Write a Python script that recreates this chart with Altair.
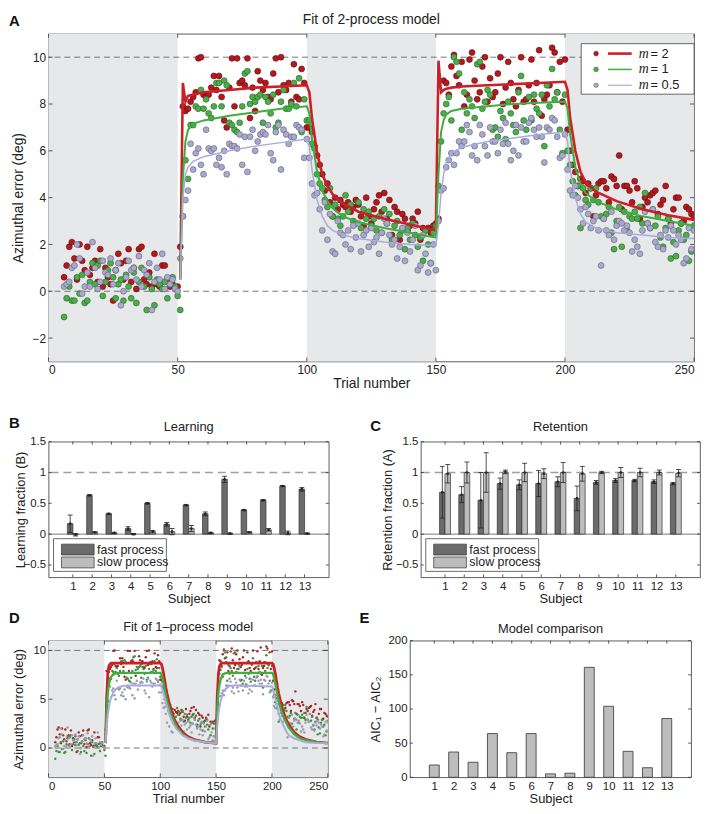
import altair as alt
import pandas as pd

FONT = "Liberation Sans"
TXT = "#222222"
BG = "#e7e8e9"

SERIES = ["m = 2", "m = 1", "m = 0.5"]
SERIES_NUM = ["= 2", "= 1", "= 0.5"]
PT_FILL = ["#b3191f", "#4dad4a", "#a9a9c9"]
PT_STROKE = ["#5e0c0e", "#24652a", "#5f5f7f"]
PT_FILL_D = ["#a3272a", "#3f8f3f", "#9a9ab2"]
LINE_COL = ["#cc1f26", "#3fae3f", "#aaaadc"]

# ---------------- trial-by-trial data (panels A and D) ----------------
BLOCK_START = [6, 51, 101, 151, 201]
red_pts = [
    [0.6, 1.1, 1.9, 2.1, 1.4, 0.5, 2.0, 1.3, 0.9, 1.9, 0.7, 1.0, 1.3, 0.4, 1.8, 0.2, 1.0, 0.6, 0.3, -0.4,
     0.9, 1.6, 1.2, 0.5, 1.3, 1.8, 0.4, 1.0, 0.1, 1.8, 1.9, 0.5, 0.3, 0.8, 0.2, 1.6, 0.3, 0.2, 1.1, 1.1,
     0.5, 0.2, 0.3, 0.1, 0.2],
    [1.9, 7.9, 7.7, 7.8, 8.1, 8.3, 8.5, 9.95, 10.0, 8.4, 8.3, 8.4, 8.7, 9.2, 8.6, 9.2, 8.3, 7.3, 7.0, 8.7,
     9.95, 7.9, 9.95, 8.9, 9.0, 8.8, 9.95, 7.4, 8.7, 7.7, 9.4, 9.0, 8.6, 8.9, 8.3, 8.2, 9.3, 9.95, 8.5, 10.0,
     8.8, 8.6, 8.9, 8.1, 9.7, 8.3, 8.2, 9.5, 8.9, 7.0],
    [7.0, 6.8, 6.2, 5.8, 5.4, 5.0, 4.3, 4.6, 3.8, 3.2, 4.0, 3.5, 3.9, 3.7, 3.6, 3.8, 3.4, 3.6, 3.9, 3.7,
     3.2, 2.8, 4.0, 3.2, 2.9, 3.5, 3.8, 4.1, 3.4, 4.2, 3.1, 3.9, 2.4, 3.6, 3.4, 2.2, 3.3, 3.1, 2.6, 2.8,
     3.1, 2.9, 3.4, 2.2, 2.7, 2.6, 2.7, 2.5, 2.8, 2.9],
    [3.1, 4.4, 9.0, 8.9, 8.4, 9.6, 10.1, 9.2, 8.8, 9.8, 7.9, 8.4, 9.9, 10.2, 9.0, 8.2, 8.5, 9.6, 10.0, 8.1,
     9.1, 8.3, 8.5, 9.3, 10.0, 8.0, 8.7, 9.8, 8.9, 8.2, 7.9, 8.6, 10.0, 8.1, 8.2, 8.8, 9.9, 8.1, 8.9, 10.3,
     7.5, 8.2, 8.4, 8.8, 10.4, 10.2, 8.5, 9.8, 8.1, 9.9],
    [6.9, 6.0, 5.4, 5.1, 4.5, 4.8, 4.7, 4.2, 4.6, 4.4, 3.2, 4.1, 4.6, 4.7, 4.7, 4.4, 3.8, 4.9, 4.8, 4.5,
     5.8, 3.5, 4.5, 4.5, 4.3, 3.8, 4.7, 4.4, 3.1, 3.6, 4.0, 3.8, 4.1, 4.2, 4.3, 3.3, 3.7, 3.9, 4.5, 3.1,
     2.9, 3.5, 4.0, 4.0, 2.9, 3.0, 3.6, 3.5, 3.3, 3.2],
]
green_pts = [
    [-1.1, -0.3, 0.2, -0.4, -0.4, 0.6, -0.1, 0.7, -0.5, -0.4, 0.4, 1.2, 0.3, 1.1, 1.3, -0.2, 0.4, 0.9, 1.2, 0.6,
     -0.3, 0.3, 0.5, -0.4, 0.7, 0.2, -0.3, 0.8, -0.5, 0.4, 1.0, 0.2, -0.8, 0.6, 0.1, -0.6, 0.5, 0.3, 0.1, 0.4,
     -0.3, 0.3, 0.6, 0.2, -0.2],
    [-0.8, 3.2, 5.6, 4.8, 7.1, 7.1, 7.9, 7.8, 8.6, 7.8, 8.2, 7.6, 7.4, 7.9, 8.9, 8.9, 7.9, 9.0, 8.8, 7.2,
     7.1, 6.9, 6.8, 7.2, 7.9, 9.3, 9.4, 8.0, 8.3, 8.1, 8.3, 8.4, 7.2, 8.3, 8.1, 7.6, 8.4, 7.0, 7.2, 8.1,
     8.6, 7.8, 7.8, 8.0, 8.9, 7.9, 9.1, 6.8, 8.2, 7.3],
    [7.3, 6.3, 6.1, 5.0, 4.6, 4.4, 3.9, 3.6, 4.4, 3.2, 3.7, 3.1, 2.8, 3.2, 4.1, 3.4, 3.7, 3.0, 2.9, 3.8,
     2.7, 3.5, 3.1, 3.4, 2.8, 3.1, 2.6, 3.2, 2.5, 3.5, 2.9, 3.3, 2.2, 2.8, 3.0, 2.4, 2.6, 1.8, 2.7, 2.2,
     2.9, 2.4, 1.9, 2.3, 1.3, 2.6, 2.0, 1.2, 2.5, 2.8],
    [4.5, 6.4, 7.6, 8.0, 8.3, 7.3, 10.0, 9.8, 9.3, 6.9, 8.5, 7.6, 8.2, 7.9, 7.4, 9.7, 9.8, 7.8, 8.1, 8.6,
     8.4, 6.9, 7.0, 6.6, 7.7, 7.4, 6.5, 8.1, 7.6, 7.1, 6.8, 8.5, 9.2, 7.3, 6.9, 8.3, 7.3, 8.4, 7.8, 7.6,
     8.4, 6.2, 8.8, 7.9, 9.5, 8.2, 8.5, 6.9, 5.9, 8.4],
    [6.0, 5.4, 4.7, 4.1, 4.5, 2.7, 4.4, 3.9, 3.7, 4.4, 3.9, 4.4, 3.8, 3.2, 3.1, 3.3, 3.6, 2.5, 1.8, 3.0,
     3.6, 1.9, 3.4, 2.6, 3.2, 3.1, 3.4, 3.1, 3.6, 2.9, 4.2, 2.9, 2.7, 3.5, 2.8, 3.2, 2.3, 1.9, 2.7, 3.1,
     1.4, 2.1, 1.5, 2.6, 2.9, 2.2, 2.4, 1.3, 1.7, 2.8],
]
gray_pts = [
    [0.2, 0.3, 0.4, 1.0, 1.1, 2.0, 1.4, -0.1, 0.2, 0.8, 0.2, 2.1, 1.0, 0.1, 0.4, 1.3, 0.8, 0.7, 1.4, 0.3,
     0.9, 1.2, -0.6, 0.0, 0.6, 1.3, 0.9, 1.0, 0.5, 1.5, 0.2, 0.9, 0.7, 1.2, -0.8, 0.4, 1.0, 0.5, 1.6, 0.1,
     0.6, 0.3, 0.5, 0.1, 0.0],
    [1.4, 3.2, 3.9, 4.3, 6.3, 5.2, 5.9, 6.1, 5.4, 5.0, 6.9, 6.1, 6.0, 6.1, 5.4, 5.7, 5.3, 6.0, 5.0, 6.3,
     6.2, 6.2, 6.1, 6.7, 5.4, 6.6, 5.1, 6.6, 6.9, 6.0, 6.4, 6.7, 6.8, 6.7, 7.1, 5.9, 5.6, 6.8, 7.1, 5.2,
     6.9, 6.7, 6.3, 6.6, 6.6, 7.1, 7.0, 6.9, 5.7, 6.5],
    [5.7, 4.6, 4.1, 4.2, 3.5, 2.6, 3.8, 2.2, 3.3, 1.7, 1.6, 3.0, 2.5, 2.4, 2.0, 2.6, 1.8, 2.8, 2.3, 2.9,
     1.7, 2.4, 2.6, 1.9, 2.7, 2.1, 2.3, 1.6, 2.5, 3.1, 2.9, 2.4, 2.0, 2.2, 1.4, 1.9, 2.7, 1.3, 2.5, 1.7,
     2.2, 2.8, 0.9, 1.1, 2.4, 1.6, 0.8, 1.2, 2.0, 0.9],
    [3.0, 4.3, 4.4, 5.3, 5.6, 5.9, 5.4, 5.9, 6.4, 6.2, 6.4, 7.1, 6.8, 5.8, 6.2, 5.6, 7.1, 6.7, 6.2, 5.8,
     7.0, 6.4, 6.4, 5.9, 6.9, 6.3, 7.2, 6.3, 5.6, 6.0, 7.1, 5.8, 7.0, 6.4, 6.4, 7.2, 7.4, 6.9, 6.6, 7.0,
     6.6, 5.5, 7.0, 6.9, 7.4, 7.3, 6.6, 5.7, 5.8, 6.7],
    [5.2, 4.3, 4.1, 4.5, 4.0, 3.5, 2.9, 3.6, 3.3, 2.7, 3.0, 3.2, 2.6, 1.1, 3.1, 2.6, 2.4, 3.4, 2.2, 2.8,
     3.0, 2.9, 2.6, 2.8, 2.5, 1.7, 2.2, 1.9, 1.6, 2.6, 3.4, 2.9, 2.7, 3.5, 2.1, 1.9, 2.4, 1.8, 2.6, 2.3,
     2.8, 2.6, 2.0, 2.4, 2.2, 1.2, 1.4, 2.7, 1.8, 2.6],
]

# 2-process model fits (panel A)
FIT2_T = [51, 52, 53, 54, 56, 60, 70, 80, 90, 100,
          101, 102, 104, 106, 108, 110, 114, 120, 130, 140, 150,
          151, 152, 153, 154, 156, 160, 170, 180, 190, 200,
          201, 202, 204, 206, 208, 212, 220, 230, 240, 250]
fit2_red = [0.5, 8.9, 8.1, 8.35, 8.4, 8.5, 8.6, 8.7, 8.75, 8.8,
            8.5, 7.4, 5.9, 5.0, 4.5, 4.15, 3.75, 3.4, 3.1, 2.85, 2.6,
            9.85, 8.5, 8.6, 8.65, 8.7, 8.75, 8.8, 8.85, 8.9, 8.95,
            8.6, 7.4, 6.0, 5.1, 4.65, 4.25, 3.85, 3.5, 3.25, 3.05]
fit2_green = [0.5, 4.8, 6.4, 6.9, 7.15, 7.3, 7.5, 7.65, 7.8, 7.9,
              7.6, 6.5, 5.1, 4.3, 3.85, 3.55, 3.2, 2.95, 2.7, 2.5, 2.3,
              5.0, 6.8, 7.3, 7.55, 7.7, 7.8, 7.9, 8.0, 8.05, 8.1,
              7.8, 6.7, 5.3, 4.6, 4.2, 3.85, 3.5, 3.2, 3.0, 2.8]
fit2_gray = [0.5, 4.0, 5.0, 5.3, 5.55, 5.75, 6.0, 6.2, 6.35, 6.5,
             6.2, 5.2, 3.9, 3.2, 2.8, 2.6, 2.4, 2.25, 2.1, 2.0, 1.95,
             2.8, 4.2, 5.0, 5.5, 5.9, 6.15, 6.4, 6.55, 6.7, 6.8,
             6.4, 5.2, 4.0, 3.3, 2.95, 2.7, 2.5, 2.4, 2.3, 2.25]

# 1-process model fits (panel D)
FIT1_T = [51, 52, 53, 54, 55, 56, 58, 60, 62, 66, 70, 100,
          101, 102, 103, 104, 105, 106, 108, 110, 112, 115, 120, 125, 130, 140, 150,
          151, 152, 153, 154, 155, 156, 158, 160, 162, 166, 170, 200,
          201, 202, 203, 204, 205, 206, 208, 210, 212, 215, 220, 225, 230, 240, 250]
fit1_red = [0.5, 5.2, 7.6, 8.4, 8.6, 8.7, 8.7, 8.7, 8.7, 8.7, 8.7, 8.7,
            8.6, 8.2, 7.6, 6.9, 6.2, 5.6, 4.6, 3.8, 3.1, 2.4, 1.6, 1.15, 0.9, 0.6, 0.5,
            5.2, 7.6, 8.4, 8.6, 8.7, 8.7, 8.7, 8.7, 8.7, 8.7, 8.7, 8.7,
            8.6, 8.2, 7.6, 6.9, 6.2, 5.6, 4.6, 3.8, 3.1, 2.4, 1.6, 1.15, 0.9, 0.6, 0.5]
fit1_green = [0.5, 3.8, 5.6, 6.5, 7.0, 7.3, 7.55, 7.65, 7.7, 7.7, 7.7, 7.7,
              7.6, 7.2, 6.6, 6.0, 5.4, 4.9, 4.0, 3.3, 2.8, 2.1, 1.4, 1.0, 0.8, 0.6, 0.5,
              3.8, 5.6, 6.5, 7.0, 7.3, 7.55, 7.65, 7.7, 7.7, 7.7, 7.7, 7.7,
              7.6, 7.2, 6.6, 6.0, 5.4, 4.9, 4.0, 3.3, 2.8, 2.1, 1.4, 1.0, 0.8, 0.6, 0.5]
fit1_gray = [0.5, 2.2, 3.4, 4.2, 4.8, 5.2, 5.7, 6.0, 6.2, 6.35, 6.4, 6.4,
             6.3, 6.0, 5.6, 5.1, 4.7, 4.3, 3.5, 2.9, 2.4, 1.9, 1.3, 1.0, 0.8, 0.6, 0.5,
             2.2, 3.4, 4.2, 4.8, 5.2, 5.7, 6.0, 6.2, 6.35, 6.4, 6.4,
             6.3, 6.0, 5.6, 5.1, 4.7, 4.3, 3.5, 2.9, 2.4, 1.9, 1.3, 1.0, 0.8, 0.6, 0.5, 0.5]

SHADE_START = [0, 100, 200]
SHADE_END = [50, 150, 250]
TRIAL_TICKS = [0, 50, 100, 150, 200, 250]

# ---------------- per-subject data (panels B, C, E) ----------------
SUBJECTS = list(range(1, 14))
learn_fast = [0.17, 0.63, 0.33, 0.09, 0.50, 0.16, 0.47, 0.33, 0.89, 0.39, 0.55, 0.78, 0.73]
learn_fast_err = [0.14, 0.01, 0.01, 0.03, 0.01, 0.03, 0.01, 0.03, 0.05, 0.01, 0.01, 0.01, 0.03]
learn_slow = [-0.01, 0.03, 0.02, 0.0, 0.04, 0.04, 0.09, 0.02, 0.01, 0.03, 0.07, 0.02, 0.01]
learn_slow_err = [0.02, 0.01, 0.01, 0.01, 0.02, 0.05, 0.05, 0.01, 0.01, 0.01, 0.02, 0.03, 0.01]
ret_fast = [0.68, 0.64, 0.55, 0.82, 0.80, 0.82, 0.85, 0.58, 0.84, 0.87, 0.87, 0.85, 0.82]
ret_fast_err = [0.42, 0.13, 0.45, 0.09, 0.08, 0.21, 0.08, 0.20, 0.03, 0.03, 0.02, 0.03, 0.02]
ret_slow = [0.98, 1.0, 1.0, 1.01, 1.0, 0.98, 1.0, 0.98, 1.0, 1.0, 1.0, 1.0, 0.99]
ret_slow_err = [0.15, 0.17, 0.32, 0.03, 0.15, 0.08, 0.16, 0.12, 0.02, 0.08, 0.07, 0.04, 0.06]
aic_diff = [18, 37, 22, 64, 36, 64, 5, 6, 161, 104, 38, 14, 86]
FRACTION_TICKS = [-0.5, 0, 0.5, 1, 1.5]
AIC_TICKS = [0, 50, 100, 150, 200]

PROCESSES = ["fast process", "slow process"]
PROC_COL = ["#6b6b6b", "#bdbdbd"]

# ---------------- tables ----------------
rows = []
for name, blocks in zip(SERIES, [red_pts, green_pts, gray_pts]):
    for start, vals in zip(BLOCK_START, blocks):
        for i, v in enumerate(vals):
            rows.append({"trial": start + i, "err": v, "series": name})
pts = pd.DataFrame(rows)


def fit_table(ts, curves):
    r = []
    for name, vals in zip(SERIES, curves):
        for t, v in zip(ts, vals):
            r.append({"trial": t, "err": v, "series": name})
    return pd.DataFrame(r)


fit2 = fit_table(FIT2_T, [fit2_red, fit2_green, fit2_gray])
fit1 = fit_table(FIT1_T, [fit1_red, fit1_green, fit1_gray])
shade = pd.DataFrame({"start": SHADE_START, "end": SHADE_END})
hlines = pd.DataFrame({"y": [0, 10]})
one = pd.DataFrame({"k": [0]})


def letter(ch, x, y):
    return alt.Chart(one).mark_text(text=ch, font=FONT, fontWeight="bold", fontSize=15,
                                    align="left", baseline="top", color="#111").encode(
        x=alt.value(x), y=alt.value(y))


def title_text(t, w, y, size=13):
    return alt.Chart(one).mark_text(text=t, font=FONT, fontSize=size, align="center",
                                    baseline="middle", color=TXT).encode(
        x=alt.value(w / 2), y=alt.value(y))


def inner_ticks(xvals, yvals, X, Y, w, h, L=4):
    xdf = pd.DataFrame({"t": xvals})
    ydf = pd.DataFrame({"t": yvals})
    st = dict(color="#333", strokeWidth=0.8)
    return [
        alt.Chart(xdf).mark_rule(**st).encode(x=X("t"), y=alt.value(h), y2=alt.value(h - L)),
        alt.Chart(xdf).mark_rule(**st).encode(x=X("t"), y=alt.value(0), y2=alt.value(L)),
        alt.Chart(ydf).mark_rule(**st).encode(y=Y("t"), x=alt.value(0), x2=alt.value(L)),
        alt.Chart(ydf).mark_rule(**st).encode(y=Y("t"), x=alt.value(w), x2=alt.value(w - L)),
    ]


def trial_panel(let, let_y, ttl, ttl_y, ttl_size, w, h, psize, pstroke_w, pfill, lwidths, fit_df, yvals,
                extent, axis_font, legend=False, extend_bottom=0):
    xsc = alt.Scale(domain=[0, 250], nice=False, zero=False)
    ysc = alt.Scale(domain=[-3, 11], nice=False, zero=False)
    xax = alt.Axis(values=TRIAL_TICKS, title="Trial number", format="d", titleFontSize=axis_font[1],
                   labelFontSize=axis_font[0])
    yax = alt.Axis(values=yvals, title="Azimuthal error (deg)", format="d",
                   minExtent=extent, maxExtent=extent, titleFontSize=axis_font[1],
                   labelFontSize=axis_font[0])

    def X(f):
        return alt.X(f, type="quantitative", scale=xsc, axis=xax)

    def Y(f):
        return alt.Y(f, type="quantitative", scale=ysc, axis=yax)

    bg = alt.Chart(shade).mark_rect(color=BG).encode(
        x=X("start"), x2="end", y=alt.value(0), y2=alt.value(h))
    dash = alt.Chart(hlines).mark_rule(color="#555", strokeWidth=0.8, strokeDash=[6, 4]).encode(y=Y("y"))
    p = alt.Chart(pts).mark_circle(size=psize, opacity=1, strokeWidth=pstroke_w, clip=True).encode(
        x=X("trial"), y=Y("err"),
        fill=alt.Fill("series:N", scale=alt.Scale(domain=SERIES, range=pfill), legend=None),
        stroke=alt.Stroke("series:N", scale=alt.Scale(domain=SERIES, range=PT_STROKE), legend=None))
    ln = alt.Chart(fit_df).mark_line(clip=True).encode(
        x=X("trial"), y=Y("err"),
        color=alt.Color("series:N", scale=alt.Scale(domain=SERIES, range=LINE_COL), legend=None),
        strokeWidth=alt.StrokeWidth("series:N", scale=alt.Scale(domain=SERIES, range=lwidths), legend=None))
    layers = [bg, dash] + inner_ticks(TRIAL_TICKS, yvals, X, Y, w, h) + [p, ln]
    if legend:
        x0 = w - 114
        layers.append(alt.Chart(one).mark_rect(fill="white", stroke="#444", strokeWidth=0.8).encode(
            x=alt.value(x0), x2=alt.value(w), y=alt.value(10), y2=alt.value(61)))
        for i, yy in enumerate([20, 36, 52]):
            layers.append(alt.Chart(one).mark_circle(size=22, opacity=1, fill=PT_FILL[i], stroke=PT_STROKE[i],
                                                     strokeWidth=0.5).encode(
                x=alt.value(x0 + 15), y=alt.value(yy)))
            layers.append(alt.Chart(one).mark_rule(color=LINE_COL[i], strokeWidth=lwidths[i]).encode(
                x=alt.value(x0 + 27), x2=alt.value(x0 + 51), y=alt.value(yy)))
            layers.append(alt.Chart(one).mark_text(text="m", font="Liberation Serif", fontStyle="italic",
                                                   fontSize=14, align="left", baseline="middle",
                                                   color=TXT).encode(
                x=alt.value(x0 + 58), y=alt.value(yy)))
            layers.append(alt.Chart(one).mark_text(text=SERIES_NUM[i], font=FONT, fontSize=13, align="left",
                                                   baseline="middle", color=TXT).encode(
                x=alt.value(x0 + 70), y=alt.value(yy)))
    layers.append(letter(let, -40, let_y))
    layers.append(title_text(ttl, w, ttl_y, ttl_size))
    if extend_bottom:
        layers.append(alt.Chart(one).mark_rule(strokeOpacity=0, opacity=0).encode(
            x=alt.value(0), y=alt.value(h), y2=alt.value(h + extend_bottom)))
    return alt.layer(*layers).properties(width=w, height=h)


def bar_panel(let, lx, ly, ttl, ytitle, fast, fast_err, slow, slow_err, w, h, extent):
    r = []
    for i, s in enumerate(SUBJECTS):
        r.append({"pos": s - 0.14, "process": PROCESSES[0], "val": fast[i],
                  "lo": fast[i] - fast_err[i], "hi": fast[i] + fast_err[i]})
        r.append({"pos": s + 0.14, "process": PROCESSES[1], "val": slow[i],
                  "lo": slow[i] - slow_err[i], "hi": slow[i] + slow_err[i]})
    df = pd.DataFrame(r)
    xsc = alt.Scale(domain=[0, 14], nice=False, zero=False)
    ysc = alt.Scale(domain=[-0.7, 1.5], nice=False, zero=False)
    xax = alt.Axis(values=SUBJECTS, title="Subject", format="d")
    yax = alt.Axis(values=FRACTION_TICKS, title=ytitle, format="~g",
                   minExtent=extent, maxExtent=extent)

    def X(f):
        return alt.X(f, type="quantitative", scale=xsc, axis=xax)

    def Y(f):
        return alt.Y(f, type="quantitative", scale=ysc, axis=yax, stack=None)

    ref = pd.DataFrame({"y": [1]})
    zero = pd.DataFrame({"y": [0]})
    dash = alt.Chart(ref).mark_rule(color="#a0a0a0", strokeWidth=1.6, strokeDash=[8, 5]).encode(y=Y("y"))
    zl = alt.Chart(zero).mark_rule(color="#555", strokeWidth=0.8).encode(y=Y("y"))
    bars = alt.Chart(df).mark_bar(size=5.6, stroke="#333", strokeWidth=0.7, orient="vertical").encode(
        x=X("pos"), y=Y("val"),
        color=alt.Color("process:N", scale=alt.Scale(domain=PROCESSES, range=PROC_COL), legend=None))
    eb = alt.Chart(df).mark_rule(color="#222", strokeWidth=0.8).encode(x=X("pos"), y=Y("lo"), y2="hi")
    cap_hi = alt.Chart(df).mark_tick(orient="horizontal", size=5, thickness=0.8, color="#222", opacity=1).encode(
        x=X("pos"), y=Y("hi"))
    cap_lo = alt.Chart(df).mark_tick(orient="horizontal", size=5, thickness=0.8, color="#222", opacity=1).encode(
        x=X("pos"), y=Y("lo"))
    dots = alt.Chart(df).mark_circle(size=7, color="#222", opacity=1).encode(x=X("pos"), y=Y("val"))
    # legend box (bottom-left, inside the axes)
    top = h - 39
    leg = [alt.Chart(one).mark_rect(fill="white", stroke="#444", strokeWidth=0.8).encode(
        x=alt.value(5), x2=alt.value(119), y=alt.value(top), y2=alt.value(h - 6))]
    for i, yy in enumerate([top + 11, top + 24]):
        leg.append(alt.Chart(one).mark_rect(fill=PROC_COL[i], stroke="#333", strokeWidth=0.7).encode(
            x=alt.value(13), x2=alt.value(46), y=alt.value(yy - 5.5), y2=alt.value(yy + 5.5)))
        leg.append(alt.Chart(one).mark_text(text=PROCESSES[i], font=FONT, fontSize=12.5, align="left",
                                            baseline="middle", color=TXT).encode(
            x=alt.value(49), y=alt.value(yy)))
    return alt.layer(zl, dash, *inner_ticks(SUBJECTS, FRACTION_TICKS, X, Y, w, h, 3),
                     bars, eb, cap_hi, cap_lo, dots, *leg, letter(let, lx, ly),
                     title_text(ttl, w, -15)).properties(width=w, height=h)


def aic_panel(w, h):
    df = pd.DataFrame({"subject": SUBJECTS, "aic": aic_diff})
    xsc = alt.Scale(domain=[0, 14], nice=False, zero=False)
    ysc = alt.Scale(domain=[0, 200], nice=False)
    xax = alt.Axis(values=SUBJECTS, title="Subject", format="d")
    yax = alt.Axis(values=AIC_TICKS, title="AIC₁ − AIC₂", format="d", minExtent=27, maxExtent=27)

    def X(f):
        return alt.X(f, type="quantitative", scale=xsc, axis=xax)

    def Y(f):
        return alt.Y(f, type="quantitative", scale=ysc, axis=yax)

    bars = alt.Chart(df).mark_bar(size=10, color="#bdbdbd", stroke="#333", strokeWidth=0.8,
                                  orient="vertical").encode(x=X("subject"), y=Y("aic"))
    return alt.layer(*inner_ticks(SUBJECTS, AIC_TICKS, X, Y, w, h, 3), bars, letter("E", -51, -30),
                     title_text("Model comparison", w, -12)).properties(width=w, height=h)


A = trial_panel("A", -20, "Fit of 2-process model", -14, 14, 652, 331, 36, 0.6, PT_FILL, [2.6, 1.5, 1.2], fit2,
                [-2, 0, 2, 4, 6, 8, 10], 22, (12, 14), legend=True, extend_bottom=49)
B = bar_panel("B", -40, -26, "Learning", "Learning fraction (B)", learn_fast, learn_fast_err,
              learn_slow, learn_slow_err, 283, 137, 20)
C = bar_panel("C", -51, -23, "Retention", "Retention fraction (A)", ret_fast, ret_fast_err,
              ret_slow, ret_slow_err, 282, 137, 26)
D = trial_panel("D", -30, "Fit of 1–process model", -14, 13, 282, 138, 6, 0, PT_FILL_D, [2.8, 2.0, 1.5], fit1,
                [0, 5, 10], 22, (11.5, 13))
E = aic_panel(284, 138)

IND = dict(color="independent", fill="independent", stroke="independent", strokeWidth="independent",
           x="independent", y="independent")

row2 = alt.hconcat(B, C, spacing=39).resolve_scale(**IND)
row3 = alt.hconcat(D, E, spacing=30).resolve_scale(**IND)

chart = alt.vconcat(A, row2, row3, spacing=4).resolve_scale(**IND).properties(
    padding=0).configure_view(stroke="#333", strokeWidth=0.8).configure_axis(
    labelFont=FONT, titleFont=FONT, labelFontSize=11.5, titleFontSize=13, labelColor=TXT,
    titleColor=TXT, titleFontWeight="normal", grid=False, ticks=False, domain=False,
    labelPadding=3, titlePadding=1)

chart.save("out.html", embed_options={"renderer": "svg", "actions": False})
